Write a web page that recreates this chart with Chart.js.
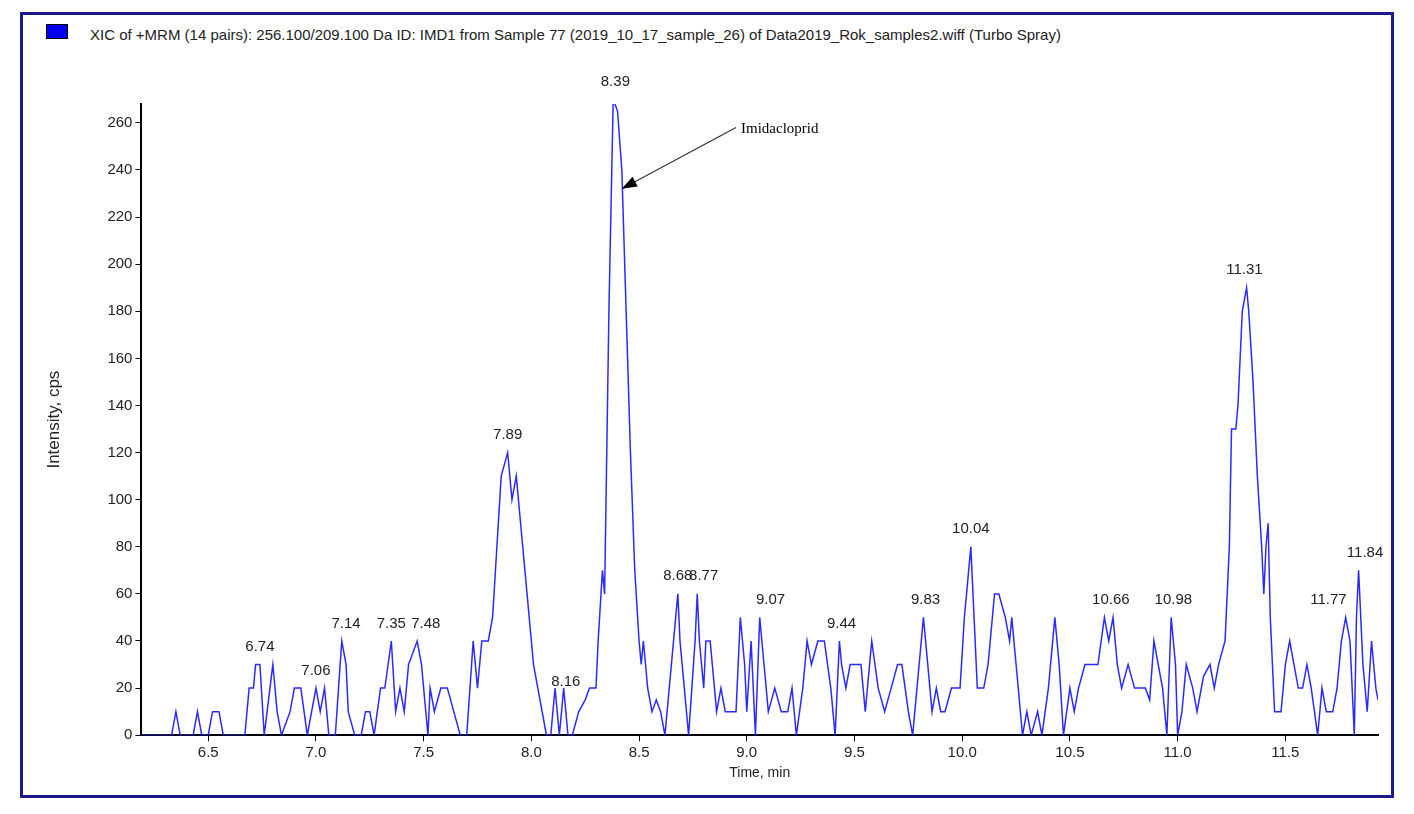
<!DOCTYPE html>
<html>
<head>
<meta charset="utf-8">
<script src="https://cdn.jsdelivr.net/npm/chart.js@4"></script>
<style>
  body { margin: 0; background: #fff; }
  #wrap { position: relative; width: 1414px; height: 814px; }
  #frame { position: absolute; left: 20px; top: 12px; width: 1374px; height: 786px; border: 3px solid #1a1a8c; box-sizing: border-box; }
  #title { position: absolute; left: 90px; top: 26px; font: 15px "Liberation Sans", Arial, sans-serif; color: #222; }
  #sq { position: absolute; left: 46px; top: 24px; width: 20px; height: 13px; background: #0000ee; border: 1px solid #000; }
  canvas { position: absolute; left: 0; top: 0; }
</style>
</head>
<body>
<div id="wrap">
  <div id="frame"></div>
  <div id="sq"></div>
  <div id="title">XIC of +MRM (14 pairs): 256.100/209.100 Da ID: IMD1 from Sample 77 (2019_10_17_sample_26) of Data2019_Rok_samples2.wiff (Turbo Spray)</div>
  <canvas id="c" width="1414" height="814"></canvas>
</div>
<script>
const tiempos = [6.19,6.33,6.35,6.37,6.43,6.45,6.47,6.50,6.52,6.55,6.57,6.67,6.69,6.71,6.72,6.74,6.76,6.80,6.82,6.84,6.88,6.90,6.93,6.96,6.98,7.00,7.02,7.04,7.05,7.06,7.09,7.12,7.14,7.15,7.18,7.21,7.23,7.25,7.27,7.30,7.32,7.35,7.37,7.39,7.41,7.43,7.47,7.49,7.51,7.52,7.53,7.55,7.58,7.61,7.64,7.67,7.70,7.73,7.75,7.77,7.80,7.82,7.84,7.86,7.89,7.91,7.93,7.95,7.97,7.99,8.01,8.04,8.07,8.09,8.11,8.13,8.15,8.17,8.19,8.22,8.25,8.27,8.30,8.31,8.33,8.34,8.36,8.38,8.40,8.42,8.44,8.46,8.48,8.50,8.51,8.52,8.54,8.56,8.58,8.60,8.62,8.64,8.66,8.68,8.69,8.71,8.73,8.76,8.77,8.78,8.80,8.81,8.83,8.86,8.88,8.90,8.92,8.95,8.97,8.99,9.00,9.02,9.03,9.04,9.06,9.08,9.10,9.13,9.16,9.19,9.21,9.23,9.26,9.28,9.30,9.33,9.36,9.39,9.41,9.43,9.44,9.46,9.48,9.53,9.55,9.58,9.61,9.64,9.67,9.70,9.72,9.75,9.77,9.80,9.82,9.84,9.86,9.88,9.90,9.92,9.95,9.99,10.01,10.03,10.04,10.05,10.07,10.10,10.12,10.15,10.17,10.20,10.22,10.23,10.25,10.28,10.30,10.32,10.35,10.37,10.40,10.43,10.45,10.47,10.50,10.52,10.54,10.57,10.60,10.63,10.66,10.68,10.70,10.72,10.74,10.77,10.80,10.85,10.87,10.89,10.91,10.93,10.95,10.97,10.99,11.00,11.02,11.04,11.07,11.09,11.12,11.15,11.17,11.19,11.22,11.24,11.25,11.27,11.28,11.30,11.32,11.33,11.35,11.37,11.39,11.40,11.41,11.42,11.43,11.45,11.48,11.50,11.52,11.54,11.56,11.58,11.60,11.62,11.65,11.67,11.69,11.72,11.74,11.76,11.78,11.80,11.82,11.83,11.84,11.86,11.88,11.90,11.92,11.93];
const intensidad = [0,0,10,0,0,10,0,0,10,10,0,0,20,20,30,30,0,30,10,0,10,20,20,0,10,20,10,20,10,0,0,40,30,10,0,0,10,10,0,20,20,40,10,20,10,30,40,30,10,0,20,10,20,20,10,0,0,40,20,40,40,50,80,110,120,100,110,90,70,50,30,15,0,0,20,0,20,0,0,10,15,20,20,40,70,60,180,270,265,240,180,120,70,40,30,40,20,10,15,10,0,20,40,60,40,20,0,40,60,40,20,40,40,10,20,10,10,10,50,30,10,40,20,0,50,30,10,20,10,10,20,0,20,40,30,40,40,20,0,40,30,20,30,30,10,40,20,10,20,30,30,10,0,30,50,30,10,20,10,10,20,20,50,70,80,60,20,20,30,60,60,50,40,50,30,0,10,0,10,0,20,50,30,0,20,10,20,30,30,30,50,40,50,30,20,30,20,20,15,40,30,20,0,50,30,0,10,30,20,10,25,30,20,30,40,80,130,130,140,180,190,180,150,110,80,60,80,90,50,10,10,30,40,30,20,20,30,20,0,20,10,10,20,40,50,40,0,50,70,30,10,40,20,15];

const ticksX = [6.5,7.0,7.5,8.0,8.5,9.0,9.5,10.0,10.5,11.0,11.5];
const ticksY = [0,20,40,60,80,100,120,140,160,180,200,220,240,260];

// etiquetas de picos: texto, tiempo, intensidad
const picosTexto = ["6.74","7.06","7.14","7.35","7.48","7.89","8.16","8.39","8.68","8.77","9.07","9.44","9.83","10.04","10.66","10.98","11.31","11.77","11.84"];
const picosT =     [6.74, 7.00, 7.14, 7.35, 7.51, 7.89, 8.16, 8.39, 8.68, 8.80, 9.11, 9.44, 9.83, 10.04, 10.69, 10.98, 11.31, 11.70, 11.87];
const picosY =     [33, 23, 43, 43, 43, 123, 18, 273, 63, 63, 53, 43, 53, 83, 53, 53, 193, 53, 73];

const etiquetas = {
  id: "etiquetas",
  afterDatasetsDraw(chart) {
    const { ctx, scales: { x, y } } = chart;
    ctx.save();
    ctx.font = "15px 'Liberation Sans', Arial, sans-serif";
    ctx.fillStyle = "#222";
    ctx.textAlign = "center";
    ctx.textBaseline = "bottom";
    picosTexto.forEach((t, i) => ctx.fillText(t, x.getPixelForValue(picosT[i]), y.getPixelForValue(picosY[i]) - 3));
    // flecha Imidacloprid
    const x1 = x.getPixelForValue(8.95), y1 = y.getPixelForValue(258);
    const x2 = x.getPixelForValue(8.42), y2 = y.getPixelForValue(232);
    ctx.strokeStyle = "#333"; ctx.lineWidth = 1.2;
    ctx.beginPath(); ctx.moveTo(x1, y1); ctx.lineTo(x2, y2); ctx.stroke();
    const a = Math.atan2(y2 - y1, x2 - x1);
    ctx.fillStyle = "#000";
    ctx.beginPath();
    ctx.moveTo(x2, y2);
    ctx.lineTo(x2 - 16 * Math.cos(a - 0.35), y2 - 16 * Math.sin(a - 0.35));
    ctx.lineTo(x2 - 16 * Math.cos(a + 0.35), y2 - 16 * Math.sin(a + 0.35));
    ctx.closePath(); ctx.fill();
    ctx.font = "15px 'Liberation Serif', 'Times New Roman', serif";
    ctx.textAlign = "left"; ctx.textBaseline = "middle";
    ctx.fillText("Imidacloprid", x1 + 5, y1 + 2);
    ctx.restore();
  }
};

new Chart(document.getElementById("c"), {
  type: "line",
  data: {
    datasets: [{
      data: tiempos.map((t, i) => ({ x: t, y: intensidad[i] })),
      borderColor: "#2a2aff",
      borderWidth: 1.5,
      pointRadius: 0,
      tension: 0
    }]
  },
  options: {
    responsive: false,
    animation: false,
    layout: { padding: { left: 44, top: 104, right: 36, bottom: 32 } },
    plugins: { legend: { display: false }, tooltip: { enabled: false } },
    scales: {
      x: {
        type: "linear", min: 6.19, max: 11.93,
        afterBuildTicks: s => { s.ticks = ticksX.map(v => ({ value: v })); },
        ticks: { color: "#222", font: { size: 15, family: "Liberation Sans" }, callback: v => v.toFixed(1) },
        grid: { drawOnChartArea: false, color: "#000", tickLength: 6 },
        border: { color: "#000", width: 2 },
        title: { display: true, text: "Time, min", color: "#222", font: { size: 14, family: "Liberation Sans" }, padding: 0 }
      },
      y: {
        min: 0, max: 268,
        afterBuildTicks: s => { s.ticks = ticksY.map(v => ({ value: v })); },
        ticks: { color: "#222", font: { size: 15, family: "Liberation Sans" } },
        grid: { drawOnChartArea: false, color: "#000", tickLength: 6 },
        border: { color: "#000", width: 2 },
        title: { display: true, text: "Intensity, cps", color: "#222", font: { size: 17, family: "Liberation Sans" }, padding: { top: 0, bottom: 40 } }
      }
    }
  },
  plugins: [etiquetas]
});
</script>
</body>
</html>
